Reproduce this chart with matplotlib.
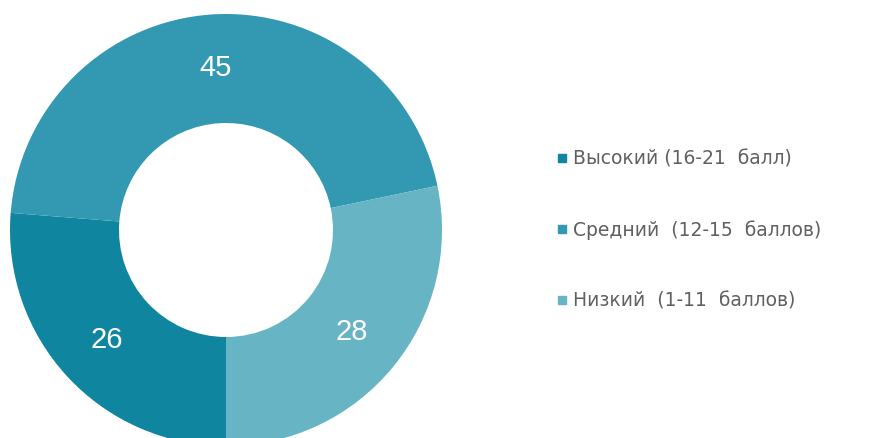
import matplotlib
matplotlib.use("Agg")
import matplotlib.pyplot as plt
from matplotlib.lines import Line2D

categories = ["Высокий (16-21  балл)", "Средний  (12-15  баллов)", "Низкий  (1-11  баллов)"]
values = [26, 45, 28]
colors = ["#0F859F", "#3399B2", "#66B4C4"]

plt.rcParams['font.family'] = ['Liberation Sans', 'DejaVu Sans']

fig = plt.figure(figsize=(8.7, 4.38), dpi=100)
ax = fig.add_axes([0, 0, 1, 1])

total = sum(values)
wedges, texts, autotexts = ax.pie(
    values, colors=colors, startangle=270, counterclock=False,
    center=(226, 208), radius=216, frame=True,
    wedgeprops=dict(width=109, linewidth=0),
    autopct=lambda p: f"{round(p * total / 100)}", pctdistance=0.75,
    textprops=dict(color="white", fontsize=21),
)
ax.set_xlim(0, 870)
ax.set_ylim(0, 438)
ax.set_aspect('equal')
ax.axis('off')

handles = [Line2D([], [], marker='s', linestyle='none', markersize=5.5,
                  markerfacecolor=c, markeredgecolor=c) for c in colors]
leg = ax.legend(handles, categories, loc='upper left', bbox_to_anchor=(548/870, 1 - 140/438),
                frameon=False, prop=dict(family='DejaVu Sans', size=13.5), labelcolor='#606060',
                handlelength=0.5, handletextpad=0.35, labelspacing=2.75, borderpad=0)

fig.savefig("out.png", dpi=100)
